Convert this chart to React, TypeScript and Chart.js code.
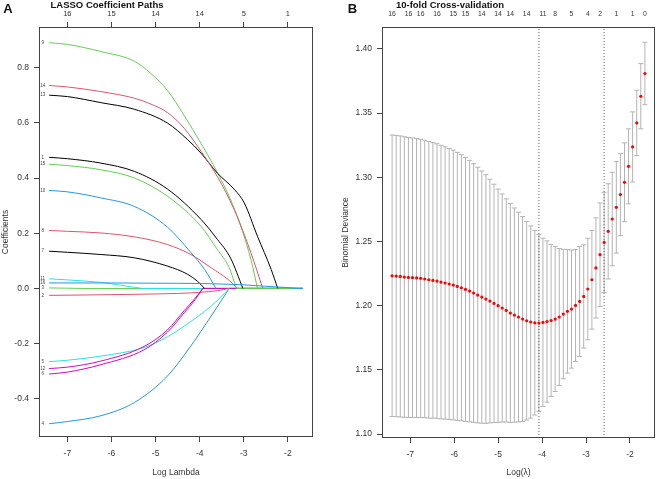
import React, { useEffect, useRef } from "react";
import { Chart, registerables } from "chart.js";

Chart.register(...registerables);

const FAMILY = "'Liberation Sans', Arial, Helvetica, sans-serif";
const AXIS_COLOR = "#444444";
const TEXT_COLOR = "#333333";

// ---------- Panel A: LASSO coefficient paths ----------
// Knots [log(lambda), coefficient]; each path ends where the coefficient reaches zero.
const coefPath1 = [[-7.413, 0.475], [-7, 0.47], [-6.24, 0.454], [-5.48, 0.424], [-4.73, 0.36], [-3.97, 0.25], [-3.6, 0.178], [-3.3, 0.11], [-3.02, 0]];
const coefPath2 = [[-7.413, -0.025], [-6.24, -0.023], [-5, -0.02], [-4.5, -0.018], [-4, -0.014], [-3.6, -0.008], [-3.33, 0]];
const coefPath3 = [[-7.413, 0.002], [-6.6, 0]];
const coefPath4 = [[-7.413, -0.49], [-7, -0.482], [-6.24, -0.461], [-5.48, -0.413], [-4.73, -0.317], [-4.2, -0.208], [-3.74, -0.1], [-3.33, 0]];
const coefPath5 = [[-7.413, -0.265], [-7, -0.26], [-6.24, -0.245], [-5.26, -0.214], [-4.73, -0.175], [-4.35, -0.136], [-3.74, -0.064], [-3.33, 0]];
const coefPath6 = [[-7.413, -0.31], [-7, -0.303], [-6.24, -0.276], [-5.26, -0.222], [-4.73, -0.158], [-4.35, -0.088], [-4.1, -0.04], [-3.93, 0]];
const coefPath7 = [[-7.413, 0.135], [-7, 0.131], [-6.24, 0.123], [-5.48, 0.111], [-4.73, 0.081], [-4.27, 0.051], [-4.05, 0.026], [-3.89, 0]];
const coefPath8 = [[-7.413, 0.21], [-7, 0.207], [-6.24, 0.201], [-5.48, 0.187], [-4.73, 0.159], [-4.2, 0.123], [-3.74, 0.075], [-3.36, 0.033], [-3.14, 0]];
const coefPath9 = [[-7.413, 0.89], [-7, 0.884], [-6.24, 0.858], [-5.48, 0.823], [-5.11, 0.779], [-4.73, 0.717], [-4.35, 0.626], [-3.97, 0.525], [-3.6, 0.42], [-3.21, 0.287], [-2.84, 0.106], [-2.69, 0]];
const coefPath10 = [[-7.413, 0.355], [-7, 0.35], [-6.24, 0.328], [-5.48, 0.297], [-4.73, 0.222], [-4.2, 0.13], [-3.89, 0.069], [-3.63, 0]];
const coefPath11 = [[-7.413, 0.035], [-7, 0.031], [-6.24, 0.022], [-5.8, 0.012], [-5.3, 0]];
const coefPath12 = [[-7.413, -0.29], [-7, -0.285], [-6.24, -0.263], [-5.26, -0.21], [-4.73, -0.15], [-4.35, -0.08], [-4.1, -0.035], [-3.93, 0]];
const coefPath13 = [[-7.413, 0.7], [-7, 0.695], [-6.24, 0.673], [-5.48, 0.649], [-4.73, 0.599], [-4.28, 0.54], [-3.97, 0.49], [-3.6, 0.418], [-3.21, 0.358], [-2.99, 0.31], [-2.69, 0.189], [-2.38, 0.069], [-2.23, 0]];
const coefPath14 = [[-7.413, 0.735], [-7, 0.73], [-6.24, 0.713], [-5.48, 0.689], [-5.11, 0.668], [-4.73, 0.637], [-4.35, 0.58], [-3.97, 0.497], [-3.6, 0.405], [-3.21, 0.283], [-2.84, 0.13], [-2.57, 0]];
const coefPath15 = [[-7.413, 0.45], [-7, 0.445], [-6.24, 0.43], [-5.48, 0.4], [-4.73, 0.334], [-3.97, 0.225], [-3.6, 0.141], [-3.33, 0.075], [-3.17, 0]];
const coefPath16 = [[-7.413, 0.02], [-6, 0.02], [-5, 0.019], [-4, 0.018], [-3, 0.013], [-2.5, 0.008], [-2, 0.003], [-1.8, 0]];

const coefPaths = [
  coefPath1, coefPath2, coefPath3, coefPath4, coefPath5, coefPath6, coefPath7, coefPath8,
  coefPath9, coefPath10, coefPath11, coefPath12, coefPath13, coefPath14, coefPath15, coefPath16,
];
const pathEndLogLambda = -1.661;
const pathColors = ["#000000", "#DF536B", "#61D04F", "#2297E6", "#28E2E5", "#CD0BBC"];
const logLambdaTicks = [-7, -6, -5, -4, -3, -2];
const coefTopLabels = ["16", "15", "14", "14", "5", "1"];
const coefTicks = [-0.4, -0.2, 0, 0.2, 0.4, 0.6, 0.8];

// ---------- Panel B: 10-fold cross-validation ----------
const cvLogLambda = [
  -7.413, -7.32, -7.227, -7.135, -7.042, -6.949, -6.856, -6.764, -6.671, -6.578,
  -6.485, -6.392, -6.3, -6.207, -6.114, -6.021, -5.929, -5.836, -5.743, -5.65,
  -5.558, -5.465, -5.372, -5.279, -5.187, -5.094, -5.001, -4.908, -4.815, -4.723,
  -4.63, -4.537, -4.444, -4.352, -4.259, -4.166, -4.073, -3.981, -3.888, -3.795,
  -3.702, -3.61, -3.517, -3.424, -3.331, -3.239, -3.146, -3.053, -2.96, -2.867,
  -2.775, -2.682, -2.589, -2.496, -2.404, -2.311, -2.218, -2.125, -2.033, -1.94,
  -1.847, -1.754, -1.661,
];
const cvMean = [
  1.2233, 1.2231, 1.2228, 1.2223, 1.222, 1.2218, 1.2216, 1.2213, 1.2208, 1.2202,
  1.2197, 1.2192, 1.2184, 1.2177, 1.2169, 1.2161, 1.215, 1.214, 1.2127, 1.2114,
  1.2099, 1.2083, 1.2067, 1.2052, 1.2036, 1.2018, 1.2, 1.1982, 1.1963, 1.1943,
  1.1927, 1.1912, 1.1896, 1.1883, 1.1873, 1.1867, 1.1865, 1.187, 1.1877, 1.1885,
  1.1896, 1.1912, 1.1935, 1.1956, 1.1974, 1.2002, 1.2033, 1.2072, 1.213, 1.2202,
  1.2294, 1.2397, 1.2493, 1.2579, 1.2675, 1.2766, 1.2865, 1.2961, 1.3085, 1.3236,
  1.3423, 1.3631, 1.3808,
];
const cvSd = [
  0.1096, 0.1095, 0.1094, 0.1092, 0.109, 0.1088, 0.1086, 0.1083, 0.108, 0.1077,
  0.1073, 0.1069, 0.1065, 0.106, 0.1055, 0.105, 0.1044, 0.1036, 0.1028, 0.1018,
  0.1007, 0.0995, 0.0982, 0.0968, 0.0948, 0.0928, 0.0908, 0.0888, 0.0869, 0.0853,
  0.0834, 0.0816, 0.0798, 0.0773, 0.0748, 0.0718, 0.0689, 0.0655, 0.0628, 0.0592,
  0.0564, 0.0533, 0.0504, 0.0481, 0.046, 0.0436, 0.0428, 0.0402, 0.0395, 0.0384,
  0.039, 0.0403, 0.039, 0.0371, 0.0364, 0.0356, 0.0319, 0.0307, 0.0292, 0.0273,
  0.0254, 0.0254, 0.0243,
];
const nzeroIndex = [0, 4, 7, 11, 15, 18, 22, 26, 29, 33, 37, 40, 44, 48, 51, 55, 59, 62];
const nzeroLabels = ["16", "16", "16", "16", "15", "15", "14", "14", "14", "14", "11", "8", "5", "4", "2", "1", "1", "0"];
const devianceTicks = [1.1, 1.15, 1.2, 1.25, 1.3, 1.35, 1.4];
const logLambdaMin = -4.073;
const logLambda1se = -2.589;

// ---------- shared helpers ----------
const X_MIN = -7.643;
const X_MAX = -1.431;
const CAP_HALF = 0.0575;

const fixedTicks = (values: number[]) => (axis: any) => {
  axis.ticks = values.map((v) => ({ value: v }));
};

const tickGrid = {
  drawOnChartArea: false,
  drawTicks: true,
  tickLength: 5,
  color: AXIS_COLOR,
  lineWidth: 1,
};

const font = (size: number, weight: string = "normal") => ({ family: FAMILY, size, weight });

const framePlugin = {
  id: "frame",
  afterDraw(chart: any) {
    const { ctx, chartArea: a } = chart;
    ctx.save();
    ctx.strokeStyle = AXIS_COLOR;
    ctx.lineWidth = 1;
    ctx.strokeRect(a.left + 0.5, a.top + 0.5, a.right - a.left - 1, a.bottom - a.top - 1);
    ctx.restore();
  },
};

const headingPlugin = (letter: string, lx: number, title: string, tx: number) => ({
  id: "heading",
  afterDraw(chart: any) {
    const ctx = chart.ctx;
    ctx.save();
    ctx.fillStyle = "#111111";
    ctx.textAlign = "center";
    ctx.textBaseline = "middle";
    ctx.font = `bold 13px ${FAMILY}`;
    ctx.fillText(letter, lx, 9);
    ctx.font = `bold 9.5px ${FAMILY}`;
    ctx.fillText(title, tx, 5.5);
    ctx.restore();
  },
});

// Variable numbers written at the left end of each coefficient path
const pathLabelPlugin = {
  id: "pathLabels",
  afterDatasetsDraw(chart: any) {
    const { ctx, scales } = chart;
    ctx.save();
    ctx.fillStyle = "#444444";
    ctx.font = `4.5px ${FAMILY}`;
    ctx.textAlign = "center";
    ctx.textBaseline = "middle";
    chart.data.datasets.forEach((ds: any) => {
      if (!ds.label) return;
      const first = ds.data[0];
      const x = scales.x.getPixelForValue(first.x) - 6.5;
      const y = scales.y.getPixelForValue(first.y);
      ctx.fillText(ds.label, x, y);
    });
    ctx.restore();
  },
};

function buildCoefChart(canvas: HTMLCanvasElement) {
  const datasets: any[] = [];
  coefPaths.forEach((path, i) => {
    const color = pathColors[i % pathColors.length];
    const last = path[path.length - 1];
    datasets.push({
      label: String(i + 1),
      data: path.map(([x, y]) => ({ x, y })),
      borderColor: color,
      borderWidth: 1,
      pointRadius: 0,
      cubicInterpolationMode: "monotone",
      order: 40 - i,
    });
    datasets.push({
      label: "",
      data: [{ x: last[0], y: 0 }, { x: pathEndLogLambda, y: 0 }],
      borderColor: color,
      borderWidth: 1,
      pointRadius: 0,
      order: 80 - i,
    });
  });

  return new Chart(canvas, {
    type: "line",
    data: { datasets },
    options: {
      responsive: false,
      animation: false,
      layout: { padding: { left: 0, right: 17, top: 0, bottom: 0 } },
      plugins: { legend: { display: false }, tooltip: { enabled: false } },
      scales: {
        x: {
          type: "linear",
          position: "bottom",
          min: X_MIN,
          max: X_MAX,
          afterBuildTicks: fixedTicks(logLambdaTicks),
          afterFit: (s: any) => { s.height = 42; },
          grid: tickGrid,
          border: { display: false },
          ticks: { autoSkip: false, maxRotation: 0, padding: 7, color: TEXT_COLOR, font: font(8.5), callback: (v: any) => String(v) },
          title: { display: true, text: "Log Lambda", color: TEXT_COLOR, font: font(8.5), padding: { top: 0, bottom: 1.5 } },
        },
        xTop: {
          type: "linear",
          axis: "x",
          position: "top",
          min: X_MIN,
          max: X_MAX,
          afterBuildTicks: fixedTicks(logLambdaTicks),
          afterFit: (s: any) => { s.height = 27; },
          grid: tickGrid,
          border: { display: false },
          ticks: { autoSkip: false, maxRotation: 0, padding: 3.5, color: TEXT_COLOR, font: font(7.5), callback: (_v: any, i: number) => coefTopLabels[i] },
        },
        y: {
          type: "linear",
          position: "left",
          min: -0.538,
          max: 0.947,
          afterBuildTicks: fixedTicks(coefTicks),
          afterFit: (s: any) => { s.width = 39; },
          grid: tickGrid,
          border: { display: false },
          ticks: { autoSkip: false, padding: 5, color: TEXT_COLOR, font: font(8.5), callback: (v: any) => Number(v).toFixed(1) },
          title: { display: true, text: "Coefficients", color: TEXT_COLOR, font: font(8.5), padding: { top: 0.5, bottom: 0 } },
        },
      } as any,
    },
    plugins: [framePlugin, pathLabelPlugin, headingPlugin("A", 8, "LASSO Coefficient Paths", 107)],
  });
}

function buildCvChart(canvas: HTMLCanvasElement) {
  const yMin = 1.097;
  const yMax = 1.417;
  const bars: any[] = [];
  cvLogLambda.forEach((x, k) => {
    const hi = cvMean[k] + cvSd[k];
    const lo = cvMean[k] - cvSd[k];
    bars.push({ x, y: lo }, { x, y: hi }, { x, y: null });
    bars.push({ x: x - CAP_HALF, y: hi }, { x: x + CAP_HALF, y: hi }, { x, y: null });
    bars.push({ x: x - CAP_HALF, y: lo }, { x: x + CAP_HALF, y: lo }, { x, y: null });
  });

  const vline = (x: number) => ({
    data: [{ x, y: yMin }, { x, y: yMax }],
    borderColor: "#666666",
    borderWidth: 1,
    borderDash: [1, 2],
    pointRadius: 0,
    order: 2,
  });

  return new Chart(canvas, {
    type: "line",
    data: {
      datasets: [
        {
          data: bars,
          borderColor: "#b4b4b4",
          borderWidth: 1,
          pointRadius: 0,
          spanGaps: false,
          order: 3,
        },
        vline(logLambdaMin),
        vline(logLambda1se),
        {
          data: cvLogLambda.map((x, k) => ({ x, y: cvMean[k] })),
          showLine: false,
          pointRadius: 1.6,
          pointBackgroundColor: "#ff0000",
          pointBorderWidth: 0,
          order: 1,
        },
      ],
    },
    options: {
      responsive: false,
      animation: false,
      layout: { padding: { left: 0, right: 1, top: 0, bottom: 0 } },
      plugins: { legend: { display: false }, tooltip: { enabled: false } },
      scales: {
        x: {
          type: "linear",
          position: "bottom",
          min: X_MIN,
          max: X_MAX,
          afterBuildTicks: fixedTicks(logLambdaTicks),
          afterFit: (s: any) => { s.height = 41; },
          grid: tickGrid,
          border: { display: false },
          ticks: { autoSkip: false, maxRotation: 0, padding: 7, color: TEXT_COLOR, font: font(8.5), callback: (v: any) => String(v) },
          title: { display: true, text: "Log(\u03BB)", color: TEXT_COLOR, font: font(8.5), padding: { top: 0, bottom: 1.5 } },
        },
        xTop: {
          type: "linear",
          axis: "x",
          position: "top",
          min: X_MIN,
          max: X_MAX,
          afterBuildTicks: fixedTicks(nzeroIndex.map((k) => cvLogLambda[k])),
          afterFit: (s: any) => { s.height = 27; },
          grid: { display: false, drawTicks: false },
          border: { display: false },
          ticks: { autoSkip: false, maxRotation: 0, padding: 8.5, color: TEXT_COLOR, font: font(6.8), callback: (_v: any, i: number) => nzeroLabels[i] },
        },
        y: {
          type: "linear",
          position: "left",
          min: yMin,
          max: yMax,
          afterBuildTicks: fixedTicks(devianceTicks),
          afterFit: (s: any) => { s.width = 52; },
          grid: tickGrid,
          border: { display: false },
          ticks: { autoSkip: false, padding: 5, color: TEXT_COLOR, font: font(8.5), callback: (v: any) => Number(v).toFixed(2) },
          title: { display: true, text: "Binomial Deviance", color: TEXT_COLOR, font: font(8.5), padding: { top: 10.5, bottom: 0 } },
        },
      } as any,
    },
    plugins: [framePlugin, headingPlugin("B", 22.5, "10-fold Cross-validation", 120)],
  });
}

export default function App() {
  const leftRef = useRef<HTMLCanvasElement | null>(null);
  const rightRef = useRef<HTMLCanvasElement | null>(null);

  useEffect(() => {
    Chart.defaults.font.family = FAMILY;
    const a = buildCoefChart(leftRef.current as HTMLCanvasElement);
    const b = buildCvChart(rightRef.current as HTMLCanvasElement);
    return () => {
      a.destroy();
      b.destroy();
    };
  }, []);

  return (
    <div style={{ position: "fixed", left: 0, top: 0, width: 659, height: 479, background: "#ffffff" }}>
      <canvas ref={leftRef} width={330} height={479} style={{ position: "absolute", left: 0, top: 0 }} />
      <canvas ref={rightRef} width={329} height={479} style={{ position: "absolute", left: 330, top: 0 }} />
    </div>
  );
}
